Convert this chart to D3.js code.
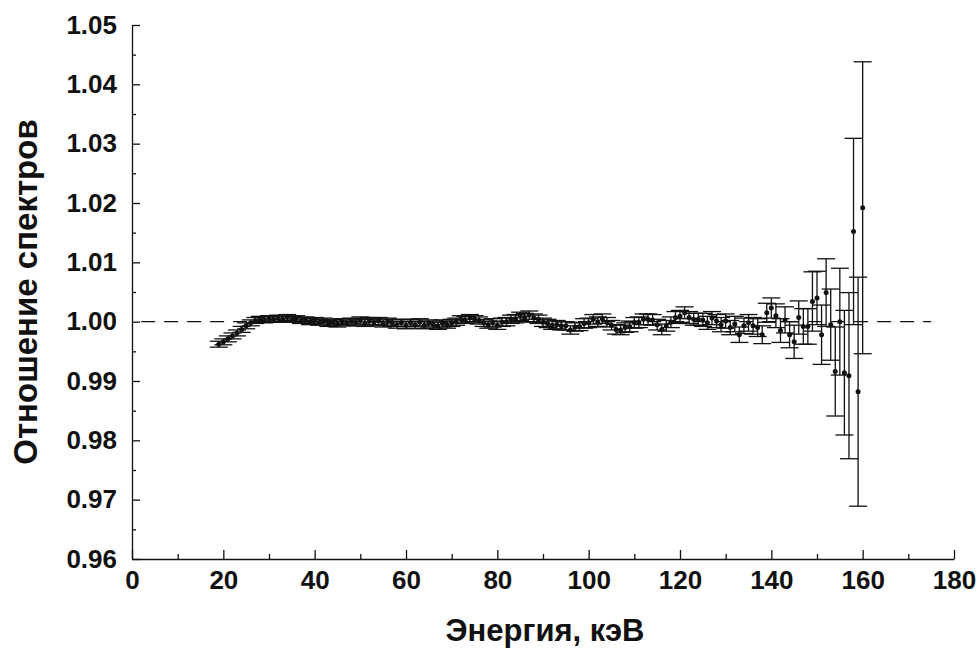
<!DOCTYPE html>
<html>
<head>
<meta charset="utf-8">
<script src="https://cdn.jsdelivr.net/npm/d3@7"></script>
<style>
  body { margin: 0; background: #fff; }
  text { font-family: "Liberation Sans", Arial, sans-serif; font-weight: bold; fill: #111; }
</style>
</head>
<body>
<svg id="chart" width="980" height="651"></svg>
<script>
// Energy bins, keV
const energy = [
  19, 20, 21, 22, 23, 24, 25, 26, 27, 28, 29, 30, 31, 32, 33, 34, 35, 36, 37, 38,
  39, 40, 41, 42, 43, 44, 45, 46, 47, 48, 49, 50, 51, 52, 53, 54, 55, 56, 57, 58,
  59, 60, 61, 62, 63, 64, 65, 66, 67, 68, 69, 70, 71, 72, 73, 74, 75, 76, 77, 78,
  79, 80, 81, 82, 83, 84, 85, 86, 87, 88, 89, 90, 91, 92, 93, 94, 95, 96, 97, 98,
  99, 100, 101, 102, 103, 104, 105, 106, 107, 108, 109, 110, 111, 112, 113, 114, 115, 116, 117, 118,
  119, 120, 121, 122, 123, 124, 125, 126, 127, 128, 129, 130, 131, 132, 133, 134, 135, 136, 137, 138,
  139, 140, 141, 142, 143, 144, 145, 146, 147, 148, 149, 150, 151, 152, 153, 154, 155, 156, 157, 158,
  159, 160
];

// Spectrum ratio per bin
const ratio = [
  0.9962, 0.9966, 0.9971, 0.9976, 0.9981, 0.9987, 0.9993, 0.9998, 1.0002, 1.0004,
  1.0003, 1.0005, 1.0004, 1.0006, 1.0004, 1.0007, 1.0004, 1.0005, 1.0002, 1.0003,
  1.0000, 1.0002, 0.9999, 1.0001, 0.9997, 0.9999, 0.9996, 1.0000, 0.9998, 1.0001,
  0.9999, 1.0002, 0.9998, 1.0001, 0.9999, 1.0001, 0.9997, 1.0000, 0.9998, 0.9995,
  0.9998, 0.9994, 0.9998, 0.9995, 0.9999, 0.9994, 0.9997, 0.9995, 0.9993, 0.9997,
  0.9995, 0.9998, 1.0000, 1.0004, 1.0003, 1.0006, 1.0004, 1.0002, 0.9998, 0.9995,
  0.9998, 0.9994, 0.9999, 1.0000, 1.0004, 1.0005, 1.0009, 1.0007, 1.0011, 1.0006,
  1.0004, 0.9999, 0.9997, 0.9994, 0.9995, 0.9993, 0.9993, 0.9986, 0.9991, 0.9992,
  0.9997, 0.9998, 1.0004, 1.0000, 1.0005, 0.9999, 0.9994, 0.9987, 0.9986, 0.9990,
  0.9992, 0.9998, 0.9999, 1.0004, 1.0004, 1.0003, 0.9995, 0.9987, 0.9993, 0.9999,
  1.0007, 1.0009, 1.0015, 1.0007, 1.0004, 1.0004, 1.0003, 0.9998, 1.0006, 1.0001,
  0.9995, 1.0001, 0.9990, 0.9996, 0.9978, 0.9993, 0.9998, 0.9993, 0.9990, 0.9978,
  1.0015, 1.0023, 1.0010, 0.9985, 1.0003, 0.9978, 0.9966, 1.0007, 0.9992, 0.9992,
  1.0034, 1.0040, 0.9978, 1.0049, 0.9995, 0.9916, 1.0000, 0.9914, 0.9909, 1.0152,
  0.9882, 1.0192
];

// Half-width of the error bar per bin
const error = [
  0.0005, 0.0005, 0.0005, 0.0005, 0.0005, 0.0005, 0.0005, 0.0005, 0.0005, 0.0005,
  0.0005, 0.0005, 0.0005, 0.0005, 0.0005, 0.0005, 0.0005, 0.0005, 0.0005, 0.0005,
  0.0005, 0.0005, 0.0005, 0.0005, 0.0005, 0.0005, 0.0005, 0.0005, 0.0005, 0.0005,
  0.0006, 0.0006, 0.0006, 0.0006, 0.0006, 0.0006, 0.0006, 0.0006, 0.0006, 0.0006,
  0.0006, 0.0006, 0.0006, 0.0006, 0.0006, 0.0006, 0.0006, 0.0006, 0.0006, 0.0006,
  0.0006, 0.0006, 0.0006, 0.0006, 0.0006, 0.0006, 0.0006, 0.0006, 0.0006, 0.0006,
  0.0007, 0.0007, 0.0007, 0.0007, 0.0007, 0.0007, 0.0007, 0.0007, 0.0007, 0.0007,
  0.0007, 0.0007, 0.0007, 0.0007, 0.0007, 0.0007, 0.0007, 0.0007, 0.0007, 0.0007,
  0.0008, 0.0008, 0.0008, 0.0008, 0.0008, 0.0008, 0.0008, 0.0008, 0.0008, 0.0008,
  0.0009, 0.0009, 0.0009, 0.0009, 0.0009, 0.0009, 0.0009, 0.0009, 0.0009, 0.0009,
  0.0010, 0.0010, 0.0010, 0.0010, 0.0010, 0.0010, 0.0011, 0.0011, 0.0011, 0.0011,
  0.0012, 0.0012, 0.0012, 0.0013, 0.0013, 0.0013, 0.0014, 0.0014, 0.0015, 0.0015,
  0.0016, 0.0017, 0.0020, 0.0020, 0.0022, 0.0022, 0.0028, 0.0028, 0.0030, 0.0030,
  0.0050, 0.0045, 0.0050, 0.0057, 0.0060, 0.0075, 0.0090, 0.0105, 0.0140, 0.0157,
  0.0193, 0.0246
];

const xTicks = [0, 20, 40, 60, 80, 100, 120, 140, 160, 180];
const xMinor = [10, 30, 50, 70, 90, 110, 130, 150, 170];
const yTicks = [0.96, 0.97, 0.98, 0.99, 1.00, 1.01, 1.02, 1.03, 1.04, 1.05];
const yMinor = [0.965, 0.975, 0.985, 0.995, 1.005, 1.015, 1.025, 1.035, 1.045];
const referenceLevel = 1.0;
const xTitle = "Энергия, кэВ";
const yTitle = "Отношение спектров";

const svg = d3.select("#chart");
const x = d3.scaleLinear().domain([0, 180]).range([132, 954]);
const y = d3.scaleLinear().domain([0.96, 1.05]).range([559, 25]);

const ink = "#111";

// Reference line at ratio = 1
svg.append("line")
  .attr("x1", x(2)).attr("x2", x(175))
  .attr("y1", y(referenceLevel)).attr("y2", y(referenceLevel))
  .attr("stroke", ink).attr("stroke-width", 1.2)
  .attr("stroke-dasharray", "14,9");

// Error bars with caps
const capHalf = 9;
const bars = svg.append("g").attr("stroke", ink).attr("stroke-width", 1.3);
energy.forEach((e, i) => {
  const cx = x(e), lo = y(ratio[i] - error[i]), hi = y(ratio[i] + error[i]);
  bars.append("line").attr("x1", cx).attr("x2", cx).attr("y1", lo).attr("y2", hi);
  bars.append("line").attr("x1", cx - capHalf).attr("x2", cx + capHalf).attr("y1", lo).attr("y2", lo);
  bars.append("line").attr("x1", cx - capHalf).attr("x2", cx + capHalf).attr("y1", hi).attr("y2", hi);
});

// Data points
svg.append("g").selectAll("circle")
  .data(energy)
  .join("circle")
  .attr("cx", d => x(d))
  .attr("cy", (d, i) => y(ratio[i]))
  .attr("r", 2.5)
  .attr("fill", ink);

// Axes (ticks point inward)
const fontSize = "26px";
const yAxis = svg.append("g")
  .attr("transform", `translate(${x(0)},0)`)
  .call(d3.axisLeft(y).tickValues(yTicks).tickFormat(d3.format(".2f"))
    .tickSizeInner(-8).tickSizeOuter(0).tickPadding(15));
svg.append("g")
  .attr("transform", `translate(${x(0)},0)`)
  .call(d3.axisLeft(y).tickValues(yMinor).tickFormat("").tickSizeInner(-4).tickSizeOuter(0))
  .select(".domain").remove();

const xAxis = svg.append("g")
  .attr("transform", `translate(0,${y(0.96)})`)
  .call(d3.axisBottom(x).tickValues(xTicks).tickFormat(d3.format("d"))
    .tickSizeInner(-9).tickSizeOuter(0).tickPadding(12));
svg.append("g")
  .attr("transform", `translate(0,${y(0.96)})`)
  .call(d3.axisBottom(x).tickValues(xMinor).tickFormat("").tickSizeInner(-5).tickSizeOuter(0))
  .select(".domain").remove();

svg.selectAll(".tick line, .domain").attr("stroke", ink).attr("stroke-width", 1.3);
[yAxis, xAxis].forEach(g => g.selectAll("text")
  .attr("font-size", fontSize)
  .attr("font-family", "'Liberation Sans', Arial, sans-serif")
  .attr("font-weight", "bold")
  .attr("fill", ink));

// Axis titles
svg.append("text")
  .attr("x", 545).attr("y", 641)
  .attr("text-anchor", "middle")
  .attr("font-size", "31px")
  .text(xTitle);

svg.append("text")
  .attr("transform", "translate(37,292) rotate(-90)")
  .attr("text-anchor", "middle")
  .attr("font-size", "33px")
  .text(yTitle);
</script>
</body>
</html>
